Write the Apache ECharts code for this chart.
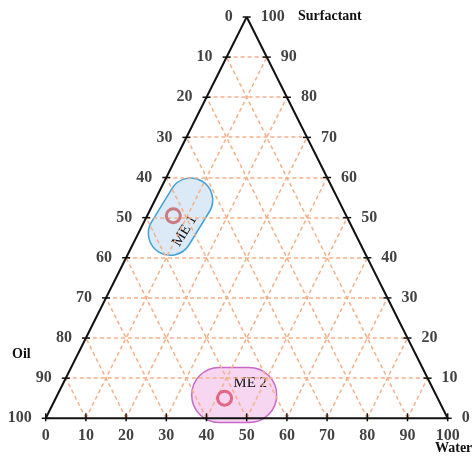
<!DOCTYPE html>
<html>
<head>
<meta charset="utf-8">
<script src="https://cdn.jsdelivr.net/npm/echarts@6/dist/echarts.min.js"></script>
<style>
  html, body { margin: 0; padding: 0; background: #ffffff; }
  #chart { width: 475px; height: 456px; }
</style>
</head>
<body>
<div id="chart"></div>
<script>
// Ternary composition diagram: Oil / Water / Surfactant (%)
const tickLevels = [0, 10, 20, 30, 40, 50, 60, 70, 80, 90, 100];
const oilTickLabels = ['100', '90', '80', '70', '60', '50', '40', '30', '20', '10', '0'];       // left edge, bottom -> top
const surfactantTickLabels = ['0', '10', '20', '30', '40', '50', '60', '70', '80', '90', '100']; // right edge, bottom -> top
const waterTickLabels = ['0', '10', '20', '30', '40', '50', '60', '70', '80', '90', '100'];     // base, left -> right

const sampleNames = ['ME 1', 'ME 2'];
const sampleOil = [43, 53];
const sampleWater = [6.5, 42];
const sampleSurfactant = [50.5, 5];

// ternary (water, surfactant) -> cartesian (x, y) in a 0..100 box
function toXY(water, surf) { return [water + surf / 2, surf]; }

const FONT = '"Liberation Serif", "Times New Roman", serif';
const GRID_COLOR = '#f6b088';

// grid lines of constant composition
const gridSegs = [];
for (let k = 10; k <= 90; k += 10) {
  // surfactant = k
  gridSegs.push([...toXY(0, k), ...toXY(100 - k, k)]);
  // water = k
  gridSegs.push([...toXY(k, 0), ...toXY(k, 100 - k)]);
  // oil = k
  gridSegs.push([...toXY(100 - k, 0), ...toXY(0, 100 - k)]);
}

// triangle frame
const frameSegs = [
  [...toXY(0, 0), ...toXY(100, 0)],
  [...toXY(0, 0), ...toXY(0, 100)],
  [...toXY(100, 0), ...toXY(0, 100)]
];

// tick marks: [x, y, kind] kind 0 = horizontal, 1 = vertical
const tickMarks = [];
tickLevels.forEach(v => {
  tickMarks.push([...toXY(0, v), 0]);                      // left edge
  if (v < 100) tickMarks.push([...toXY(100 - v, v), 0]);   // right edge
  tickMarks.push([...toXY(v, 0), 1]);                      // base
});

const leftLabelData = tickLevels.map(v => toXY(0, v));
const rightLabelData = tickLevels.map(v => toXY(100 - v, v));
const baseLabelData = tickLevels.map(v => toXY(v, 0));
const sampleXY = sampleNames.map((n, i) => toXY(sampleWater[i], sampleSurfactant[i]));

// outlined regions around each sample (pixel offsets/sizes, rotation in radians)
const regionStyles = [
  { fill: '#dce9f6', stroke: '#3ea2d8', w: 83, h: 44, dx: 7.2, dy: 1, rot: 1.021, tx: -10, ty: 11 },
  { fill: '#f6d6f1', stroke: '#c968c9', w: 85, h: 55, dx: 9.6, dy: -3.2, rot: 0, tx: 16, ty: -12 }
];
const pointColors = ['#c45e68', '#dc4b6b'];

const chart = echarts.init(document.getElementById('chart'), null, { renderer: 'canvas' });

// horizontal grid lines sit on whole pixels so they spread over two rows
const snap = v => Math.round(v);

function segRenderer(style, soft) {
  return function (params, api) {
    const p1 = api.coord([api.value(0), api.value(1)]);
    const p2 = api.coord([api.value(2), api.value(3)]);
    let y1 = p1[1], y2 = p2[1];
    if (soft && Math.abs(y1 - y2) < 0.01) { y1 = y2 = snap(y1); }
    return { type: 'line', shape: { x1: p1[0], y1: y1, x2: p2[0], y2: y2 }, style: style };
  };
}

const labelBase = { color: '#111', fontFamily: FONT, fontWeight: 'bold', fontSize: 16 };

chart.setOption({
  animation: false,
  backgroundColor: '#ffffff',
  grid: { left: 45.7, right: 27.3, top: 17, bottom: 37.7 },
  xAxis: { type: 'value', min: 0, max: 100, show: false },
  yAxis: { type: 'value', min: 0, max: 100, show: false },
  graphic: [
    { type: 'text', left: 298, top: 9, style: { text: 'Surfactant', fill: '#111', font: 'bold 14px ' + FONT } },
    { type: 'text', left: 12, top: 347, style: { text: 'Oil', fill: '#111', font: 'bold 14px ' + FONT } },
    { type: 'text', left: 435, top: 441, style: { text: 'Water', fill: '#111', font: 'bold 14px ' + FONT } }
  ],
  series: [
    {
      type: 'custom', name: 'regions', z: 1, clip: false,
      data: sampleXY,
      renderItem: function (params, api) {
        const p = api.coord([api.value(0), api.value(1)]);
        const s = regionStyles[params.dataIndex];
        return {
          type: 'group', x: p[0] + s.dx, y: p[1] + s.dy, rotation: s.rot,
          children: [
            { type: 'rect', shape: { x: -s.w / 2, y: -s.h / 2, width: s.w, height: s.h, r: s.h / 2 },
              style: { fill: s.fill, stroke: s.stroke, lineWidth: 1.5 } },
            { type: 'text', x: s.tx, y: s.ty, z2: 10,
              style: { text: sampleNames[params.dataIndex], fill: '#111', font: '15px ' + FONT,
                       textAlign: 'center', textVerticalAlign: 'middle' } }
          ]
        };
      }
    },
    {
      type: 'custom', name: 'grid', z: 2, clip: false, data: gridSegs,
      renderItem: segRenderer({ stroke: GRID_COLOR, lineWidth: 1.5, lineDash: [4, 3] }, true)
    },
    {
      type: 'custom', name: 'frame', z: 3, clip: false, data: frameSegs,
      renderItem: segRenderer({ stroke: '#111', lineWidth: 2 }, false)
    },
    {
      type: 'custom', name: 'ticks', z: 3, clip: false, data: tickMarks,
      renderItem: function (params, api) {
        const p = api.coord([api.value(0), api.value(1)]);
        const vertical = api.value(2) === 1;
        const shape = vertical
          ? { x1: p[0], y1: p[1] - 5, x2: p[0], y2: p[1] + 3 }
          : { x1: p[0] - 4, y1: p[1], x2: p[0] + 4, y2: p[1] };
        return { type: 'line', shape: shape, style: { stroke: '#111', lineWidth: 1.5 } };
      }
    },
    {
      type: 'scatter', name: 'oilLabels', symbolSize: 0, z: 4, silent: true, data: leftLabelData,
      label: Object.assign({ show: true, position: 'left', distance: 14,
        formatter: p => oilTickLabels[p.dataIndex] }, labelBase)
    },
    {
      type: 'scatter', name: 'surfactantLabels', symbolSize: 0, z: 4, silent: true, data: rightLabelData,
      label: Object.assign({ show: true, position: 'right', distance: 14,
        formatter: p => surfactantTickLabels[p.dataIndex] }, labelBase)
    },
    {
      type: 'scatter', name: 'waterLabels', symbolSize: 0, z: 4, silent: true, data: baseLabelData,
      label: Object.assign({ show: true, position: 'bottom', distance: 10,
        formatter: p => waterTickLabels[p.dataIndex] }, labelBase)
    },
    {
      type: 'scatter', name: 'samples', z: 5, symbol: 'circle', symbolSize: 14,
      data: sampleXY.map((xy, i) => ({
        value: xy,
        itemStyle: { color: 'rgba(0,0,0,0)', borderColor: pointColors[i], borderWidth: 3 }
      }))
    }
  ]
});
</script>
</body>
</html>
